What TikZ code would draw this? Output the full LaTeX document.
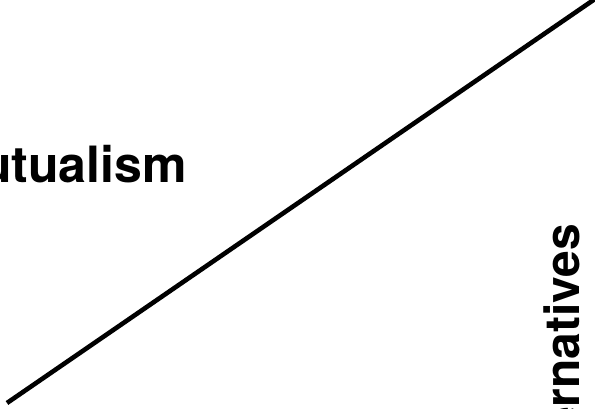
\documentclass[tikz,border=0pt]{standalone}
\usepackage{fontspec}
\setmainfont{TeX Gyre Heros}
\begin{document}
\begin{tikzpicture}[x=1pt,y=1pt,
  lbl/.style={inner sep=0pt, font=\fontsize{50}{50}\selectfont\bfseries},
  vlbl/.style={inner sep=0pt, font=\fontsize{48}{48}\selectfont\bfseries},
  axisline/.style={line width=4.6pt, line cap=butt}]
\useasboundingbox (0,0) rectangle (595,408);
\clip (0,0) rectangle (595,408);
\coordinate (lo) at (7,5);
\coordinate (hi) at (606,416.6);
\draw[axisline] (lo) -- (hi);
\node[lbl, anchor=base east] (mut) at (187,226) {utualism};
\node[vlbl, anchor=base east, rotate=90] (alt) at (579,184.5) {ernatives};
\end{tikzpicture}
\end{document}
